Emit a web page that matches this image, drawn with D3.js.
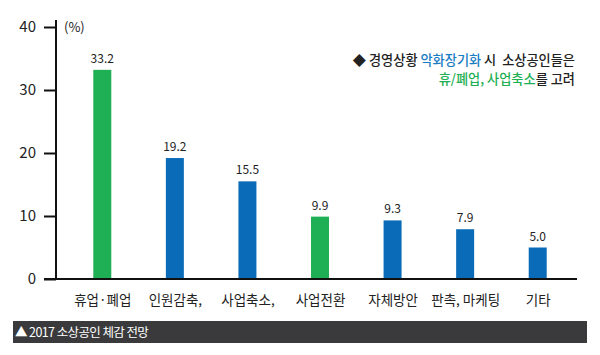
<!DOCTYPE html>
<html><head><meta charset="utf-8">
<script src="https://cdn.jsdelivr.net/npm/d3@7"></script>
<style>body{margin:0;background:#fff;}svg{display:block;}</style>
</head><body>
<svg id="c" width="600" height="355"></svg>
<script>
const categories = ["휴업·폐업","인원감축,","사업축소,","사업전환","자체방안","판촉, 마케팅","기타"];
const values = [33.2,19.2,15.5,9.9,9.3,7.9,5.0];
const highlight = [true,false,false,true,false,false,false];
const yTicks = [0,10,20,30,40];

const GREEN = "#1fb055", BLUE = "#0a6cb8";
const font = "'Noto Sans CJK KR','Noto Sans',sans-serif";
const svg = d3.select("#c");

const x = d3.scalePoint().domain(categories).range([66,574]).padding(0.5);
const y = d3.scaleLinear().domain([0,40]).range([279,27]);

// bars
svg.selectAll("rect.bar").data(values).enter().append("rect")
  .attr("x",(d,i)=>x(categories[i])-9).attr("width",18)
  .attr("y",d=>y(d)).attr("height",d=>y(0)-y(d))
  .attr("fill",(d,i)=>highlight[i]?GREEN:BLUE);

// value labels
svg.selectAll("text.val").data(values).enter().append("text")
  .attr("x",(d,i)=>x(categories[i])).attr("y",d=>y(d)-7)
  .attr("text-anchor","middle").attr("font-family",font).attr("font-size",12)
  .attr("fill","#222").text(d=>d.toFixed(1));

// y axis
const yAxis = d3.axisLeft(y).tickValues(yTicks).tickSize(12).tickPadding(8);
const gy = svg.append("g").attr("transform","translate(56,0)").call(yAxis);
gy.select(".domain").remove();
gy.selectAll(".tick line").attr("stroke","#111").attr("stroke-width",2);
gy.selectAll(".tick text").attr("font-family",font).attr("font-size",15).attr("fill","#222");
svg.append("line").attr("x1",56).attr("x2",56).attr("y1",y(40)-7).attr("y2",y(0))
  .attr("stroke","#111").attr("stroke-width",2);

// x axis
const xAxis = d3.axisBottom(x).tickSize(0).tickPadding(16);
const gx = svg.append("g").attr("transform",`translate(0,${y(0)})`).call(xAxis);
gx.select(".domain").remove();
gx.selectAll(".tick text").attr("font-family",font).attr("font-size",13.5).attr("fill","#222");
svg.append("line").attr("x1",44).attr("x2",577).attr("y1",y(0)).attr("y2",y(0))
  .attr("stroke","#111").attr("stroke-width",2);

// unit
svg.append("text").attr("x",64).attr("y",y(40)+5).attr("font-family",font)
  .attr("font-size",13).attr("fill","#222").text("(%)");

// legend / annotation
const t1 = svg.append("text").attr("x",575).attr("y",65).attr("text-anchor","end")
  .attr("font-family",font).attr("font-size",13.2).attr("font-weight",500).attr("fill","#222");
t1.append("tspan").text("◆ 경영상황 ");
t1.append("tspan").attr("fill","#1a7dc2").text("악화장기화");
t1.append("tspan").text(" 시\u00a0\u00a0소상공인들은");
const t2 = svg.append("text").attr("x",575).attr("y",84).attr("text-anchor","end")
  .attr("font-family",font).attr("font-size",13.2).attr("font-weight",500).attr("fill","#222");
t2.append("tspan").attr("fill",GREEN).text("휴/폐업, 사업축소");
t2.append("tspan").text("를 고려");

// footer
svg.append("rect").attr("x",13).attr("y",321).attr("width",574).attr("height",22).attr("fill","#3a3a3c");
svg.append("text").attr("x",15).attr("y",337).attr("font-family",font).attr("font-size",12.5)
  .attr("fill","#fff").attr("letter-spacing",-0.6).text("▲ 2017 소상공인 체감 전망");
</script>
</body></html>
